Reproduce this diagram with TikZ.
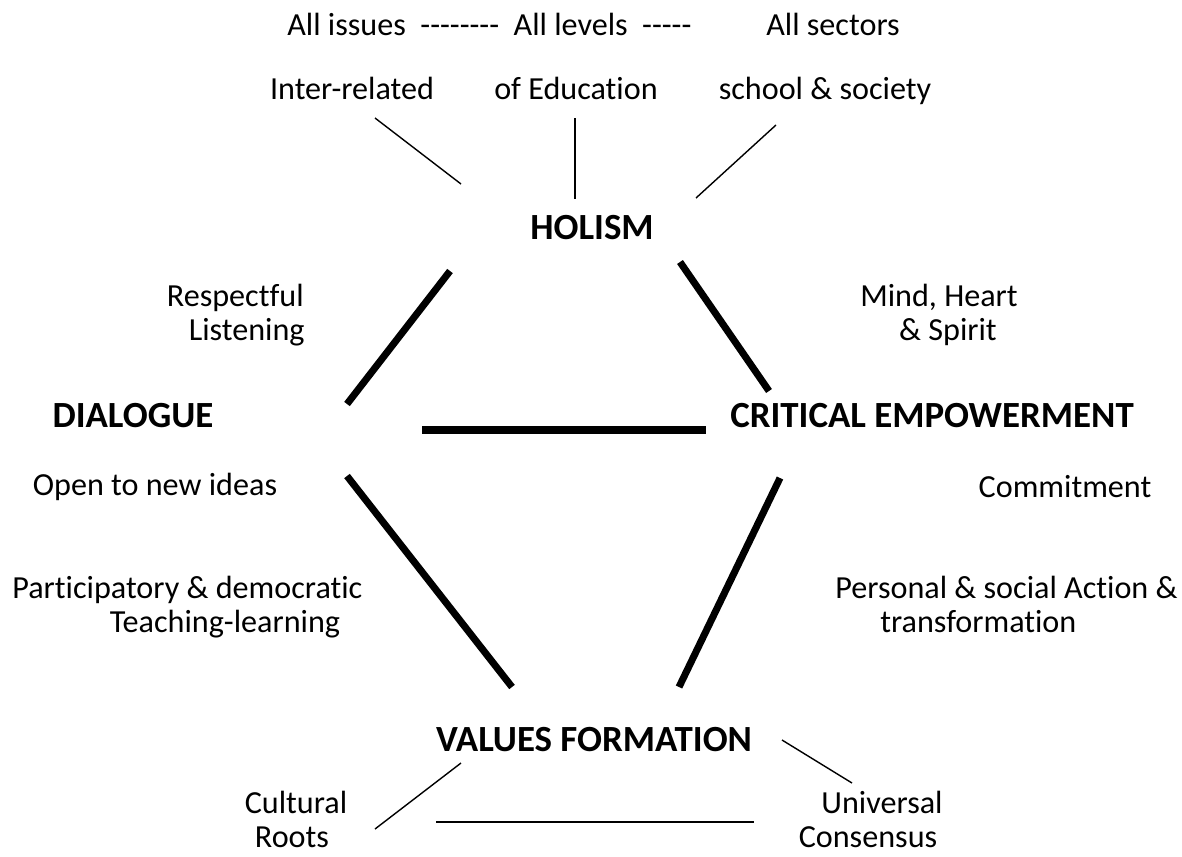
\documentclass[tikz,border=0pt]{standalone}
\usepackage{fontspec}
\setmainfont{Carlito}[Ligatures={TeXOff,NoCommon}]
\tikzset{
  lbl/.style={inner sep=0pt, anchor=base, font=\fontsize{18.3}{22}\selectfont},
  hub/.style={lbl, font=\fontsize{21}{25}\selectfont\bfseries},
  thin/.style={line width=0.8pt},
  bar/.style={line width=4pt}
}
\begin{document}
\begin{tikzpicture}[x=0.02cm,y=-0.02cm]
\useasboundingbox (0,0) rectangle (1182,856);
% top row
\node[lbl,anchor=base west] (issues) at (287,35) {All issues\ \ --------\ \ All levels\ \ -----};
\node[lbl] (sectors) at (833,35) {All sectors};
\node[lbl] (inter) at (352,99) {Inter-related};
\node[lbl] (educ) at (576,99) {of Education};
\node[lbl] (school) at (825,99) {school \& society};
\draw[thin] (375,118) -- (461,184);
\draw[thin] (575,118) -- (575,199);
\draw[thin] (776,125) -- (696,198);

% the four corners
\node[hub] (holism) at (592,239) {HOLISM};
\node[hub] (dialogue) at (133,427) {DIALOGUE};
\node[hub] (critical) at (932,427) {CRITICAL EMPOWERMENT};
\node[hub] (values) at (594,751) {VALUES FORMATION};

\node[lbl,anchor=base east] (respect) at (304,306) {Respectful};
\node[lbl,anchor=base east] (listen) at (305,340) {Listening};
\node[lbl] (mind) at (939,306) {Mind, Heart};
\node[lbl] (spirit) at (948,340) {\& Spirit};
\node[lbl] (open) at (155,495) {Open to new ideas};
\node[lbl] (commit) at (1065,497) {Commitment};
\node[lbl,anchor=base west] (partic) at (12,598) {Participatory \& democratic};
\node[lbl] (teach) at (225,632) {Teaching-learning};
\node[lbl,anchor=base west] (personal) at (835,598) {Personal \& social Action \&};
\node[lbl,anchor=base west] (transf) at (880,632) {transformation};

\draw[bar] (450,271) -- (347,404);
\draw[bar] (680,262) -- (769,391);
\draw[bar] (422,430) -- (706,430);
\draw[bar] (347,476) -- (512,687);
\draw[bar] (780,478) -- (679,687);

% bottom
\node[lbl] (cultural) at (296,813) {Cultural};
\node[lbl] (roots) at (292,847) {Roots};
\node[lbl] (univ) at (882,813) {Universal};
\node[lbl] (consensus) at (868,847) {Consensus};
\draw[thin] (461,763) -- (375,829);
\draw[thin] (782,740) -- (852,783);
\draw[thin] (436,822) -- (754,822);
\end{tikzpicture}
\end{document}
